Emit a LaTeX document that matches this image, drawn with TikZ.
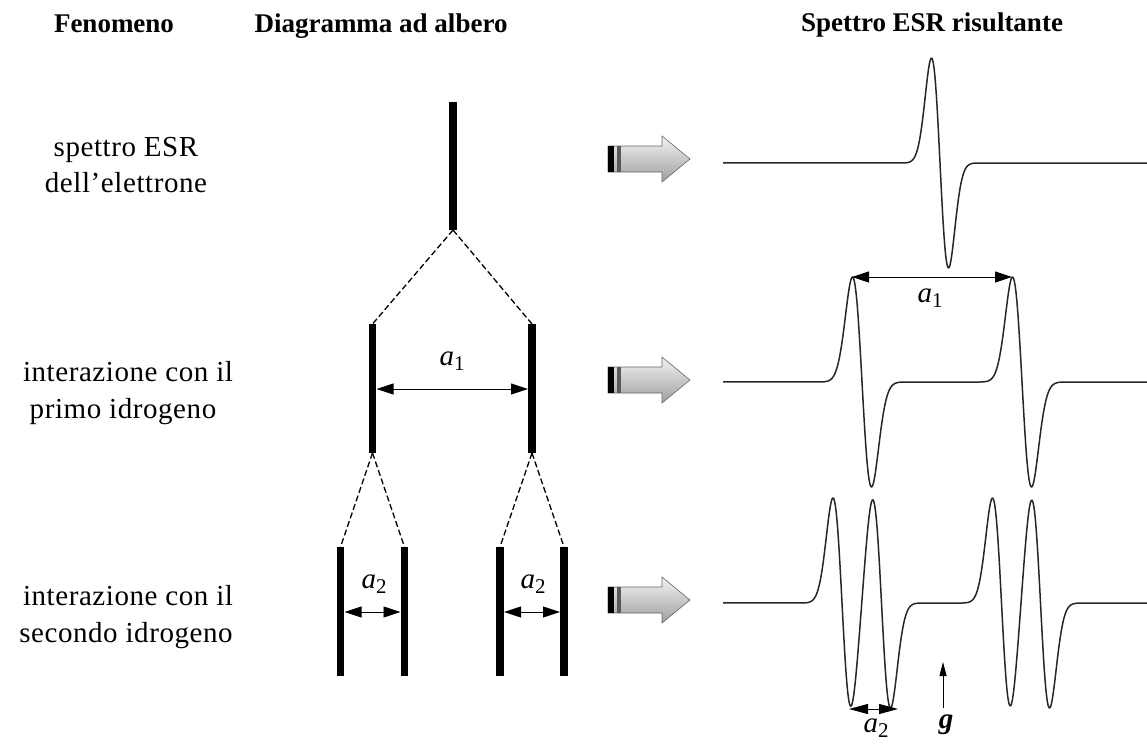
\documentclass[tikz,border=0pt]{standalone}
\usepackage{fontspec}
\setmainfont{Liberation Serif}
\newfontfamily\lblfont{Liberation Serif}[LetterSpace=2]
\newfontfamily\hdrfont{Liberation Serif}
\usetikzlibrary{arrows.meta}
\newcommand\symlbl[2]{{\fontsize{29}{30}\selectfont\itshape #1}\raisebox{-5pt}{\fontsize{21}{22}\selectfont #2}}
\begin{document}
\begin{tikzpicture}[x=1pt,y=-1pt,
  declare function={dg(\t)=-\t*exp(0.5-\t*\t/2); cl(\t)=max(-6,min(6,\t));},
  bar/.style={line width=7.5pt},
  tdash/.style={dash pattern=on 6pt off 3pt, line width=1.3pt},
  dimarrow/.style={{Triangle[length=17pt,width=11pt]}-{Triangle[length=17pt,width=11pt]}, line width=0.9pt},
  smalldim/.style={{Triangle[length=19pt,width=10pt]}-{Triangle[length=19pt,width=10pt]}, line width=0.9pt},
  garrowtip/.style={-{Triangle[length=14pt,width=7pt]}, line width=0.9pt},
  spec/.style={line width=1.5pt, black!85, line join=round},
  hdr/.style={anchor=base, inner sep=0pt, font=\hdrfont\bfseries\fontsize{27}{30}\selectfont},
  lbl/.style={anchor=base, inner sep=0pt, font=\lblfont\fontsize{29}{33}\selectfont},
  sym/.style={anchor=base, inner sep=0pt},
  garrow/.pic={
    \path[top color=gray!10, bottom color=gray!75, draw=black!60, line width=0.6pt]
      (0,-13) -- (54,-13) -- (54,-23) -- (82,0) -- (54,23) -- (54,13) -- (0,13) -- cycle;
    \fill[black] (0,-13) rectangle (6,13);
    \fill[black!65] (9,-13) rectangle (12.5,13);
  }]
\useasboundingbox (0,0) rectangle (1147,744);

% headers
\node[hdr] (h1) at (114,32) {Fenomeno};
\node[hdr] (h2) at (381,32) {Diagramma ad albero};
\node[hdr] (h3) at (932,31) {Spettro ESR risultante};

% left labels
\node[lbl] (l1a) at (126,156) {spettro ESR};
\node[lbl] (l1b) at (126,192) {dell’elettrone};
\node[lbl] (l2a) at (128,381) {interazione con il};
\node[lbl] (l2b) at (123,418) {primo idrogeno};
\node[lbl] (l3a) at (128,605) {interazione con il};
\node[lbl] (l3b) at (126,642) {secondo idrogeno};

% tree coordinates
\coordinate (b0t) at (453,102); \coordinate (b0b) at (453,230);
\coordinate (b1t) at (372.5,324); \coordinate (b1b) at (372.5,453);
\coordinate (b2t) at (532,324); \coordinate (b2b) at (532,453);
\coordinate (c1t) at (340.5,547); \coordinate (c1b) at (340.5,676);
\coordinate (c2t) at (404.5,547); \coordinate (c2b) at (404.5,676);
\coordinate (c3t) at (500,547); \coordinate (c3b) at (500,676);
\coordinate (c4t) at (564,547); \coordinate (c4b) at (564,676);

\foreach \b in {b0,b1,b2,c1,c2,c3,c4} \draw[bar] (\b t) -- (\b b);
\draw[tdash] (b0b) -- (b1t);
\draw[tdash] (b0b) -- (b2t);
\draw[tdash] (b1b) -- (c1t);
\draw[tdash] (b1b) -- (c2t);
\draw[tdash] (b2b) -- (c3t);
\draw[tdash] (b2b) -- (c4t);

% tree dimension arrows
\coordinate (t1L) at (376.5,389); \coordinate (t1R) at (528,389);
\draw[dimarrow] (t1L) -- (t1R);
\node[sym] (ta1) at (452,365) {\symlbl{a}{1}};
\coordinate (t2L) at (344.5,612); \coordinate (t2R) at (400.5,612);
\draw[dimarrow] (t2L) -- (t2R);
\node[sym] (ta2) at (374,588) {\symlbl{a}{2}};
\coordinate (t3L) at (504,612); \coordinate (t3R) at (560,612);
\draw[dimarrow] (t3L) -- (t3R);
\node[sym] (ta3) at (533,588) {\symlbl{a}{2}};

% gray arrows
\pic (g1) at (608,159) {garrow};
\pic (g2) at (608,380) {garrow};
\pic (g3) at (608,600) {garrow};

% spectra
\draw[spec] plot[domain=723:1147, samples=500] (\x,{163-105*dg(cl((\x-940)/8.5))});
\draw[spec] plot[domain=723:1147, samples=500] (\x,{382-105*(dg(cl((\x-862)/9.5))+dg(cl((\x-1022)/9.5)))});
\draw[spec] plot[domain=723:1147, samples=600] (\x,{603-105*(dg(cl((\x-842)/9))+dg(cl((\x-881.5)/9))+dg(cl((\x-1001.5)/9))+dg(cl((\x-1040.5)/9)))});

% spectrum annotations
\coordinate (s1L) at (852,277); \coordinate (s1R) at (1012,277);
\draw[dimarrow] (s1L) -- (s1R);
\node[sym] (sa1) at (930,302) {\symlbl{a}{1}};
\coordinate (s2L) at (849,709); \coordinate (s2R) at (898,709);
\draw[smalldim] (s2L) -- (s2R);
\node[sym] (sa2) at (876,732) {\symlbl{a}{2}};
\coordinate (gb) at (943,708); \coordinate (gt) at (943,662);
\draw[garrowtip] (gb) -- (gt);
\node[sym] (gl) at (946,728) {\fontsize{29}{30}\selectfont\bfseries\itshape g};
\end{tikzpicture}
\end{document}
